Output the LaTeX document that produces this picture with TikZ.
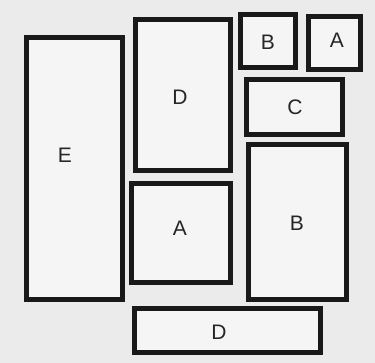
\documentclass[tikz,border=0pt]{standalone}
\usepackage{fontspec}
\setmainfont{Liberation Sans}
\begin{document}
\begin{tikzpicture}[x=1pt,y=-1pt,
  box/.style={draw=black!90,line width=5.5pt,fill=black!4},
  lbl/.style={font=\fontsize{21}{21}\selectfont,text=black!85,inner sep=0pt}]
\fill[black!8] (0,0) rectangle (375,363);
\useasboundingbox (0,0) rectangle (375,363);
% rectangles
\draw[box] (26.5,37.5) rectangle (122.5,299.5);
\draw[box] (135.5,19.5) rectangle (230.5,170.5);
\draw[box] (240.5,14.5) rectangle (295.5,67.5);
\draw[box] (308.5,16.5) rectangle (360.5,69.5);
\draw[box] (246.5,79.5) rectangle (342.5,134.5);
\draw[box] (131.5,183.5) rectangle (230.5,282.5);
\draw[box] (248.5,144.5) rectangle (346.5,299.5);
\draw[box] (134.5,308.5) rectangle (320.5,352.5);
% labels
\node[lbl] (tE) at (65,155) {E};
\node[lbl] (tD1) at (180,97) {D};
\node[lbl] (tB1) at (268,42) {B};
\node[lbl] (tA1) at (337,40) {A};
\node[lbl] (tC) at (295,107) {C};
\node[lbl] (tA2) at (180,228) {A};
\node[lbl] (tB2) at (297,223) {B};
\node[lbl] (tD2) at (219,332) {D};
\end{tikzpicture}
\end{document}
